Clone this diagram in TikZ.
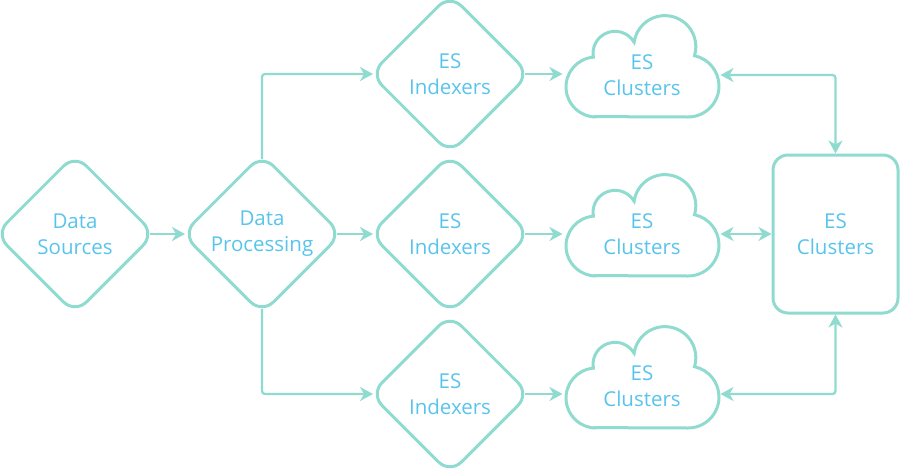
\documentclass[tikz,border=0pt]{standalone}
\usepackage{fontspec}
\setmainfont{Open Sans}
\usepackage{tikz}
\usetikzlibrary{arrows.meta,shapes.geometric}
\definecolor{mint}{HTML}{8FDBD0}
\definecolor{sky}{HTML}{58C4EC}
\tikzset{
	box/.style={draw=mint, line width=3pt, text=sky, align=center, font=\fontsize{20.5}{26}\selectfont},
	gem/.style={box, diamond, aspect=1, rounded corners=16pt, minimum size=160pt, inner sep=0pt},
	flow/.style={draw=mint, line width=2.3pt, -{Stealth[length=13pt, width=14pt, inset=4pt]}},
	both/.style={flow, {Stealth[length=13pt, width=14pt, inset=4pt]}-{Stealth[length=13pt, width=14pt, inset=4pt]}}
}
\def\escloud(#1){\draw[draw=mint, line width=3pt, shift={(#1)}] (-48,-41.6) -- (46,-42) arc[start angle=-90, end angle=78, radius=31pt] arc[start angle=-17, end angle=172, radius=31pt] arc[start angle=30, end angle=190, radius=22pt] arc[start angle=95, end angle=270, radius=30pt] -- cycle;}

\begin{document}
\begin{tikzpicture}[x=1pt, y=1pt]
		%%%%% START %%%%%
		\useasboundingbox (0,0) rectangle (900,-469);
		
		\node[gem] (src) at (75,-234) {Data\\Sources};
		\node[gem] (proc) at (262,-234) {Data\\Processing};
		\node[gem] (idx1) at (450,-74) {ES\\Indexers};
		\node[gem] (idx2) at (450,-234) {ES\\Indexers};
		\node[gem] (idx3) at (450,-394) {ES\\Indexers};
		
		\escloud(642,-75);
		\escloud(642,-234);
		\escloud(642,-386);
		\node[box, draw=none, minimum width=154pt, minimum height=100pt] (cl1) at (642,-75) {ES\\Clusters};
		\node[box, draw=none, minimum width=154pt, minimum height=100pt] (cl2) at (642,-234) {ES\\Clusters};
		\node[box, draw=none, minimum width=154pt, minimum height=100pt] (cl3) at (642,-386) {ES\\Clusters};
		
		\node[box, rounded corners=15pt, minimum width=125pt, minimum height=158pt] (esc) at (835.5,-234) {ES\\Clusters};
		
		\draw[flow, shorten <=-6.6pt, shorten >=-4.5pt] (src.east) -- (proc.west);
		\draw[flow, rounded corners=3pt, shorten <=-6.6pt, shorten >=-4.5pt] (proc.north) |- (idx1.west);
		\draw[flow, shorten <=-6.6pt, shorten >=-4.5pt] (proc.east) -- (idx2.west);
		\draw[flow, rounded corners=3pt, shorten <=-6.6pt, shorten >=-4.5pt] (proc.south) |- (idx3.west);
		
		\foreach \i in {1,2,3}
			\draw[flow, shorten <=-6.6pt, shorten >=1pt] (idx\i.east) -- (idx\i.east -| cl\i.west);
		
		\draw[both, rounded corners=3pt] (cl1.east) -| (esc.north);
		\draw[both] (cl2.east) -- (esc.west);
		\draw[both, rounded corners=3pt] (cl3.east |- idx3.east) -| (esc.south);
		%%%%% END %%%%%
\end{tikzpicture}
\end{document}
